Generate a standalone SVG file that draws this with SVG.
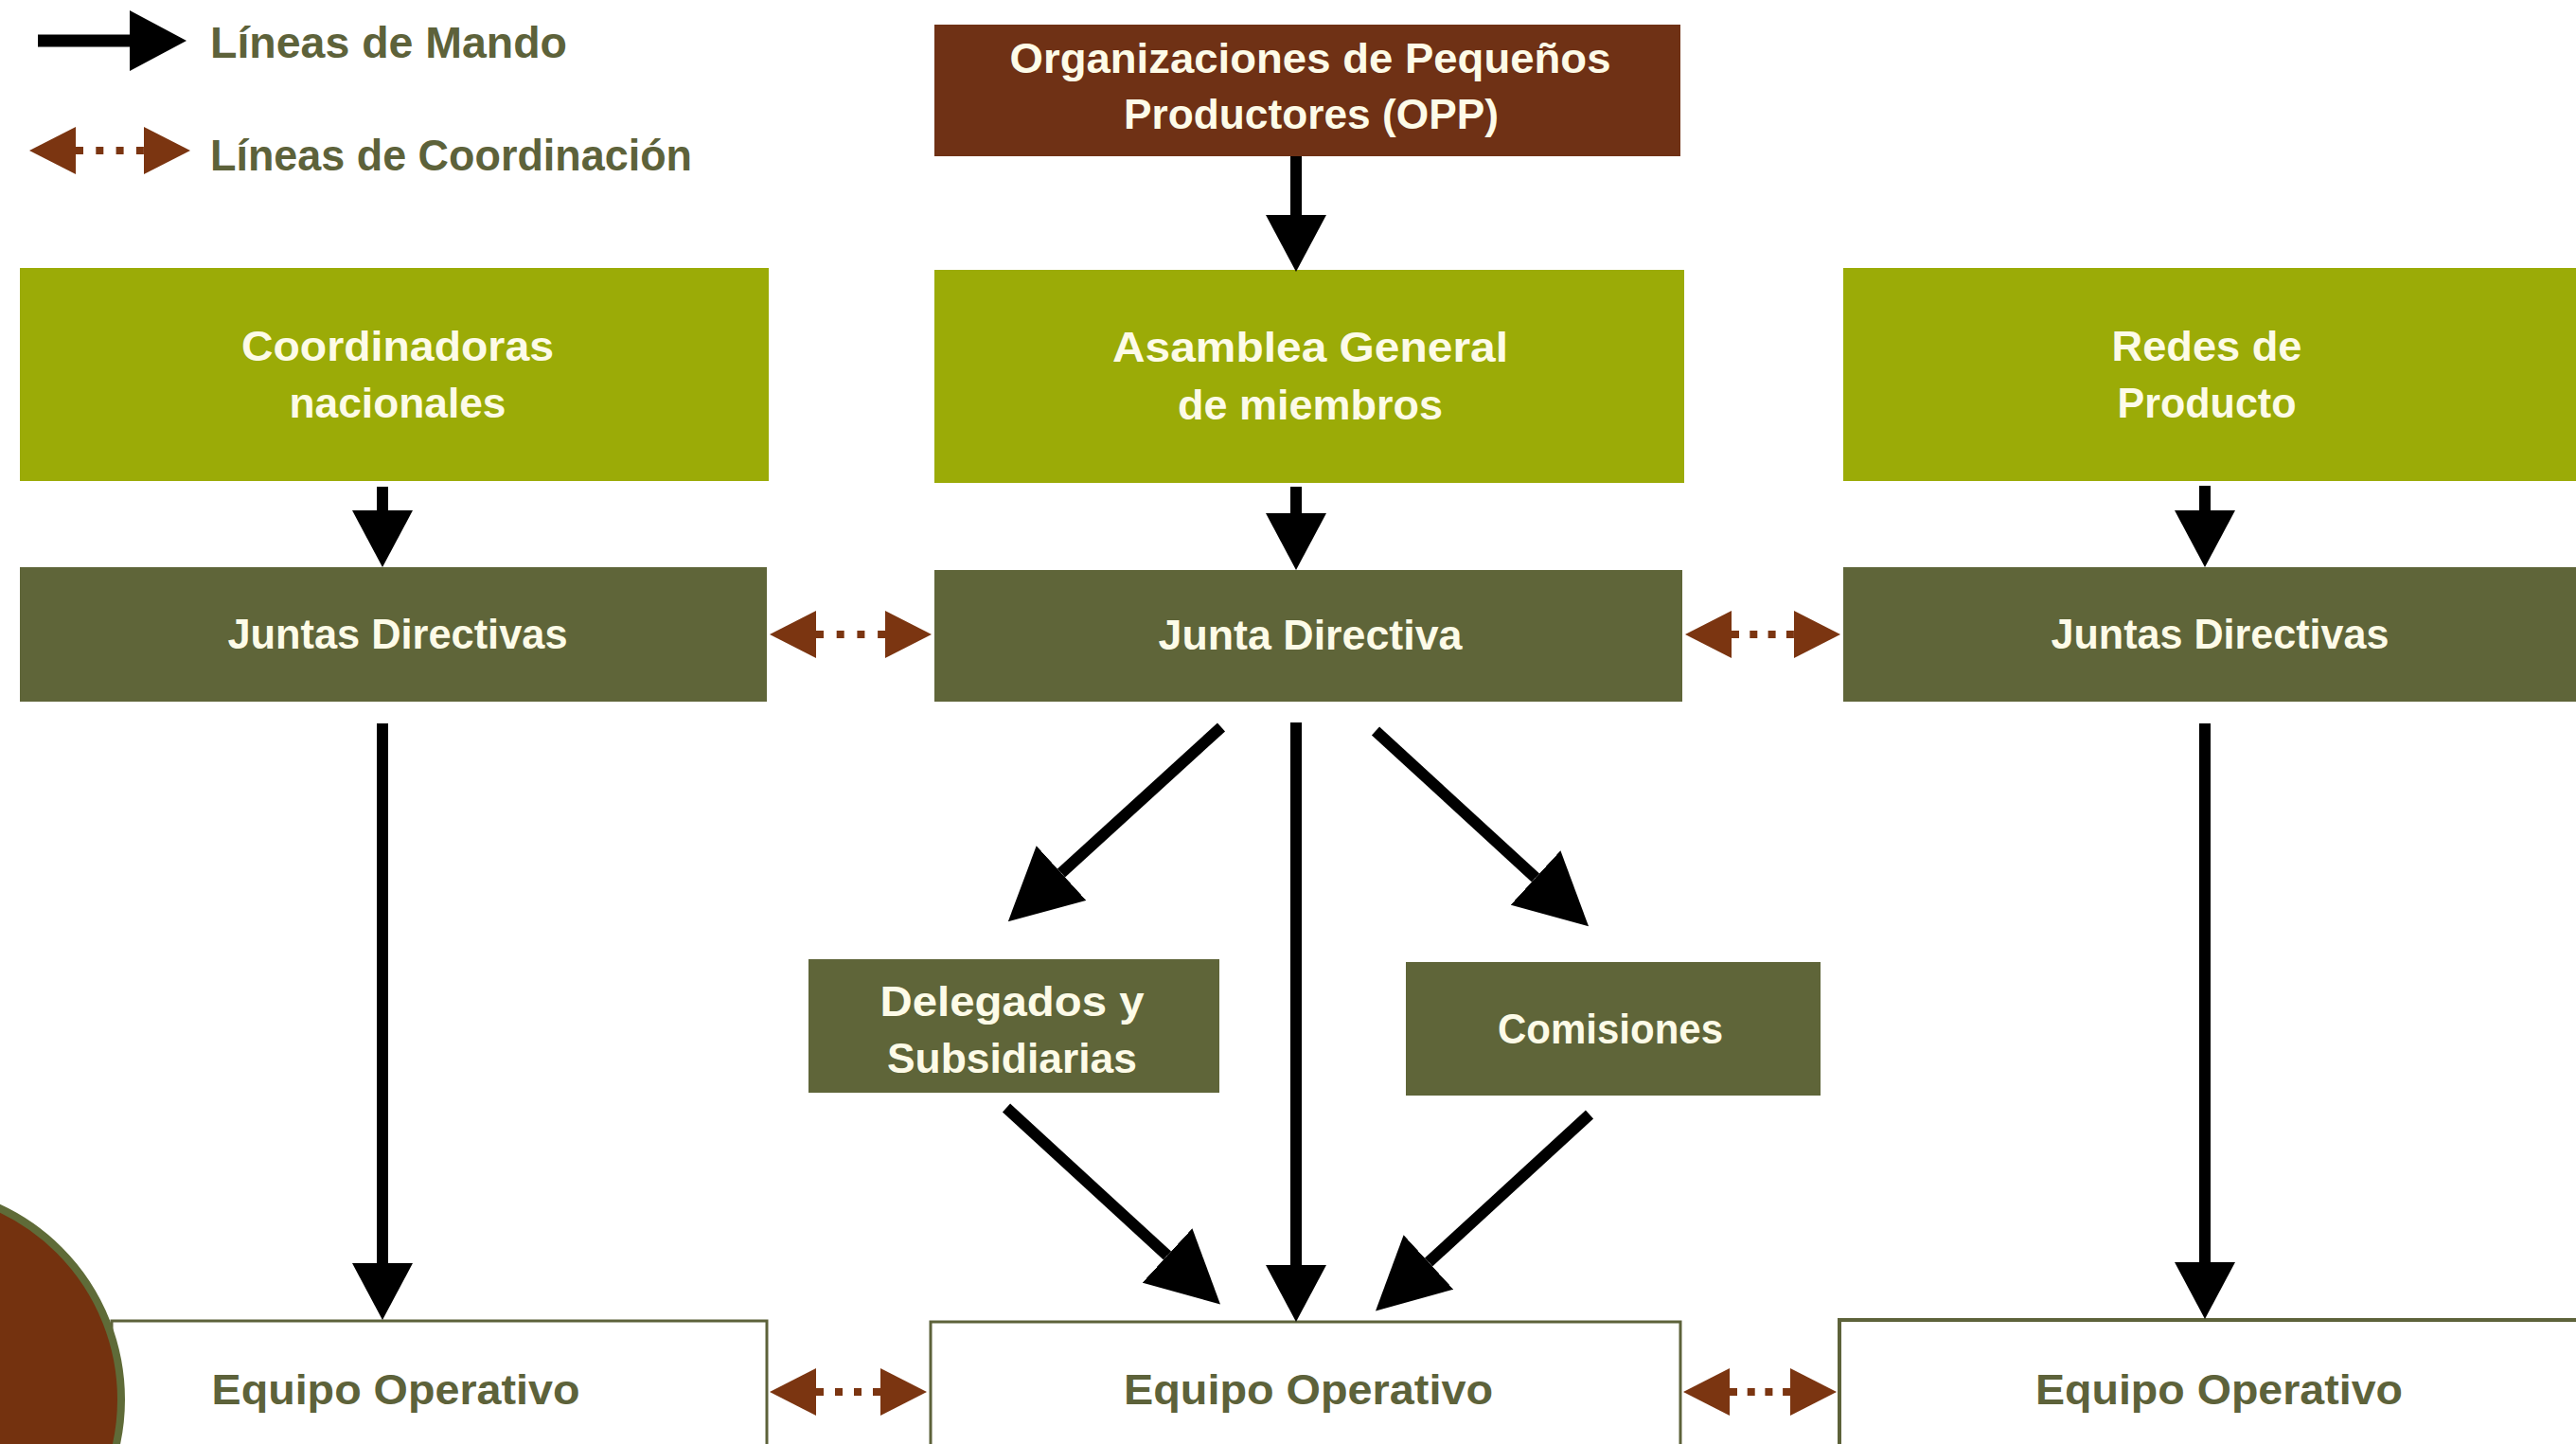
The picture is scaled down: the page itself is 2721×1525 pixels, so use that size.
<svg xmlns="http://www.w3.org/2000/svg" width="2721" height="1525" viewBox="0 0 2721 1525">
<style>
.lbl{font-family:"Liberation Sans","DejaVu Sans",Arial,sans-serif;font-size:44px;font-weight:bold;fill:#fdfbe8;text-anchor:middle}
.dk{fill:#5d623a}
.leg{font-family:"Liberation Sans","DejaVu Sans",Arial,sans-serif;font-size:47px;font-weight:bold;fill:#5d623a}
.opp{fill:#6f3115}
.lg{fill:#9bab07}
.ol{fill:#5f6539}
.eq{fill:#ffffff;stroke:#5d623a;stroke-width:3}
.cmd{stroke:#000;stroke-width:12;fill:none}
.crd{stroke:#7b3511;stroke-width:8;fill:none;marker-start:url(#ch);marker-end:url(#ch)}
</style>
<defs>
<marker id="ah" markerUnits="userSpaceOnUse" markerWidth="60" markerHeight="64" viewBox="0 0 60 64" refX="0" refY="32" orient="auto"><path d="M0,0 L60,32 L0,64 Z" fill="#000"/></marker>
<marker id="ahd" markerUnits="userSpaceOnUse" markerWidth="76" markerHeight="78" viewBox="0 0 76 78" refX="0" refY="39" orient="auto"><path d="M0,0 L76,39 L0,78 Z" fill="#000"/></marker>
<marker id="ch" markerUnits="userSpaceOnUse" markerWidth="49" markerHeight="50" viewBox="0 0 49 50" refX="0" refY="25" orient="auto-start-reverse"><path d="M0,0 L49,25 L0,50 Z" fill="#7b3511"/></marker>
</defs>
<rect width="2721" height="1525" fill="#ffffff"/>

<g id="legend">
<line class="cmd" x1="40" y1="43" x2="137" y2="43" marker-end="url(#ah)" style="stroke-width:13"/>
<text class="leg" x="222" y="61" textLength="377" lengthAdjust="spacingAndGlyphs">Líneas de Mando</text>
<line class="crd" x1="80" y1="159" x2="152" y2="159" style="stroke-dasharray:8 13.3"/>
<text class="leg" x="222" y="180" textLength="509" lengthAdjust="spacingAndGlyphs">Líneas de Coordinación</text>
</g>

<g id="opp"><rect class="opp" x="987" y="26" width="788" height="139"/>
<text class="lbl" x="1384" y="77" textLength="635" lengthAdjust="spacingAndGlyphs">Organizaciones de Pequeños</text>
<text class="lbl" x="1385" y="136" textLength="396" lengthAdjust="spacingAndGlyphs">Productores (OPP)</text></g>

<g id="coordinadoras"><rect class="lg" x="21" y="283" width="791" height="225"/>
<text class="lbl" x="420" y="381" textLength="330" lengthAdjust="spacingAndGlyphs">Coordinadoras</text>
<text class="lbl" x="420" y="441" textLength="229" lengthAdjust="spacingAndGlyphs">nacionales</text></g>

<g id="asamblea"><rect class="lg" x="987" y="285" width="792" height="225"/>
<text class="lbl" x="1384" y="382" textLength="418" lengthAdjust="spacingAndGlyphs">Asamblea General</text>
<text class="lbl" x="1384" y="443" textLength="280" lengthAdjust="spacingAndGlyphs">de miembros</text></g>

<g id="redes"><rect class="lg" x="1947" y="283" width="790" height="225"/>
<text class="lbl" x="2331" y="381" textLength="201" lengthAdjust="spacingAndGlyphs">Redes de</text>
<text class="lbl" x="2331" y="441" textLength="189" lengthAdjust="spacingAndGlyphs">Producto</text></g>

<g id="juntas-izq"><rect class="ol" x="21" y="599" width="789" height="142"/>
<text class="lbl" x="420" y="685" textLength="359" lengthAdjust="spacingAndGlyphs">Juntas Directivas</text></g>

<g id="junta"><rect class="ol" x="987" y="602" width="790" height="139"/>
<text class="lbl" x="1384" y="686" textLength="321" lengthAdjust="spacingAndGlyphs">Junta Directiva</text></g>

<g id="juntas-der"><rect class="ol" x="1947" y="599" width="790" height="142"/>
<text class="lbl" x="2345" y="685" textLength="357" lengthAdjust="spacingAndGlyphs">Juntas Directivas</text></g>

<g id="delegados"><rect class="ol" x="854" y="1013" width="434" height="141"/>
<text class="lbl" x="1069" y="1073" textLength="279" lengthAdjust="spacingAndGlyphs">Delegados y</text>
<text class="lbl" x="1069" y="1133" textLength="264" lengthAdjust="spacingAndGlyphs">Subsidiarias</text></g>

<g id="comisiones"><rect class="ol" x="1485" y="1016" width="438" height="141"/>
<text class="lbl" x="1701" y="1102" textLength="238" lengthAdjust="spacingAndGlyphs">Comisiones</text></g>

<g id="equipo-izq"><rect class="eq" x="118" y="1395" width="692" height="160"/>
<text class="lbl dk" x="418" y="1483" textLength="389" lengthAdjust="spacingAndGlyphs">Equipo Operativo</text></g>

<g id="equipo-centro"><rect class="eq" x="983" y="1396" width="792" height="160"/>
<text class="lbl dk" x="1382" y="1483" textLength="390" lengthAdjust="spacingAndGlyphs">Equipo Operativo</text></g>

<g id="equipo-der"><rect class="eq" x="1943" y="1394" width="800" height="160" style="stroke-width:4"/>
<text class="lbl dk" x="2344" y="1483" textLength="388" lengthAdjust="spacingAndGlyphs">Equipo Operativo</text></g>

<g id="circulo"><circle cx="-95" cy="1478" r="223" fill="#74320f" stroke="#5f6b38" stroke-width="8"/></g>

<g id="connectors">
<line class="cmd" x1="1369" y1="165" x2="1369" y2="227" marker-end="url(#ah)"/>
<line class="cmd" x1="404" y1="514" x2="404" y2="539" marker-end="url(#ah)"/>
<line class="cmd" x1="1369" y1="514" x2="1369" y2="542" marker-end="url(#ah)"/>
<line class="cmd" x1="2329" y1="513" x2="2329" y2="539" marker-end="url(#ah)"/>
<line class="cmd" x1="404" y1="764" x2="404" y2="1334" marker-end="url(#ah)"/>
<line class="cmd" x1="1369" y1="763" x2="1369" y2="1336" marker-end="url(#ah)"/>
<line class="cmd" x1="2329" y1="764" x2="2329" y2="1333" marker-end="url(#ah)"/>
<line class="cmd" x1="1290" y1="768" x2="1121" y2="922" marker-end="url(#ahd)"/>
<line class="cmd" x1="1453" y1="772" x2="1622" y2="927" marker-end="url(#ahd)"/>
<line class="cmd" x1="1063" y1="1170" x2="1233" y2="1326" marker-end="url(#ahd)"/>
<line class="cmd" x1="1679" y1="1177" x2="1509" y2="1333" marker-end="url(#ahd)"/>
<line class="crd" x1="862" y1="670" x2="935" y2="670" style="stroke-dasharray:8 13.7"/>
<line class="crd" x1="1829" y1="670" x2="1895" y2="670" style="stroke-dasharray:8 11.3"/>
<line class="crd" x1="862" y1="1470" x2="930" y2="1470" style="stroke-dasharray:8 12"/>
<line class="crd" x1="1827" y1="1470" x2="1891" y2="1470" style="stroke-dasharray:8 10.7"/>
</g>
</svg>
